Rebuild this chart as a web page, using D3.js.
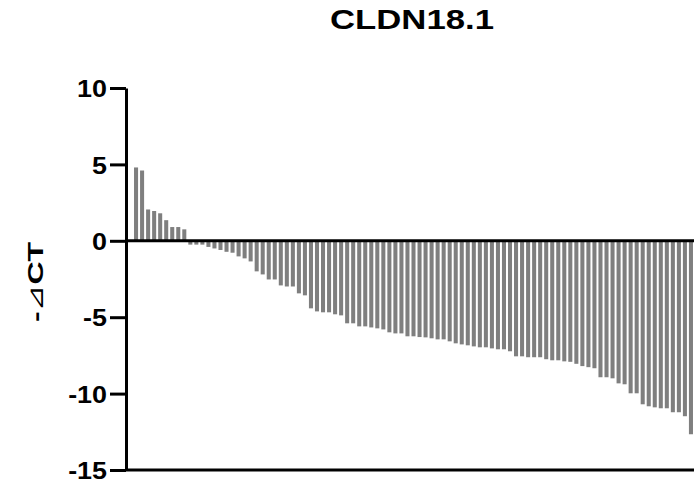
<!DOCTYPE html>
<html lang="en">
<head>
<meta charset="utf-8">
<title>CLDN18.1</title>
<script src="https://cdn.jsdelivr.net/npm/d3@7"></script>
<style>
  body { margin: 0; background: #fff; }
  .axis path, .axis line { stroke: #000; stroke-width: 3; }
  .axis text { font-family: Arial, "Liberation Sans", sans-serif; font-size: 24px; font-weight: bold; fill: #000; }
  .bar { fill: #7f7f7f; }
</style>
</head>
<body>
<script>
var w = 694, h = 481;

// -dCT per sample, sorted high to low
var samples = d3.range(1, 94).map(function (i) { return "S" + i; });
var values = [
  4.8, 4.6, 2.05, 1.95, 1.8, 1.35, 0.9, 0.9, 0.75, -0.25,
  -0.25, -0.25, -0.4, -0.5, -0.6, -0.72, -0.78, -1.02, -1.15, -1.35,
  -2.0, -2.2, -2.53, -2.53, -2.92, -2.99, -2.99, -3.44, -3.57, -4.42,
  -4.62, -4.68, -4.68, -4.81, -4.88, -5.4, -5.4, -5.6, -5.6, -5.67,
  -5.73, -5.8, -5.99, -6.06, -6.06, -6.25, -6.25, -6.3, -6.32, -6.38,
  -6.45, -6.45, -6.58, -6.71, -6.78, -6.84, -6.91, -6.97, -6.97, -7.04,
  -7.1, -7.1, -7.23, -7.56, -7.56, -7.62, -7.62, -7.62, -7.75, -7.82,
  -7.82, -7.89, -7.92, -8.05, -8.2, -8.27, -8.34, -8.93, -8.93, -9.0,
  -9.33, -9.39, -9.98, -9.98, -10.7, -10.83, -10.9, -10.96, -10.96, -11.22,
  -11.22, -11.48, -12.66
];
var yTicks = [10, 5, 0, -5, -10, -15];

var data = samples.map(function (s, i) { return { name: s, v: values[i] }; });

var axX = 126;

var x = d3.scaleBand()
  .domain(samples)
  .range([133, w])
  .paddingInner(0.33)
  .paddingOuter(0.17);

var y = d3.scaleLinear()
  .domain([-15, 10])
  .range([470, 88]);

var svg = d3.select("body").append("svg")
  .attr("width", w)
  .attr("height", h);

// bars
svg.selectAll(".bar")
  .data(data)
  .enter().append("rect")
  .attr("class", "bar")
  .attr("x", function (d) { return x(d.name); })
  .attr("width", x.bandwidth())
  .attr("y", function (d) { return y(Math.max(0, d.v)); })
  .attr("height", function (d) { return Math.abs(y(d.v) - y(0)); });

// y axis (plain hyphen for negatives, like the original)
var yAxis = svg.append("g")
  .attr("class", "axis")
  .attr("transform", "translate(" + axX + ",0)")
  .call(d3.axisLeft(y).tickValues(yTicks).tickSize(16).tickSizeOuter(0)
    .tickFormat(function (d) { return String(d); }));
yAxis.selectAll("text")
  .attr("dy", "0.36em")
  .attr("x", -19 / 1.12)
  .attr("transform", "scale(1.12,1)");

// zero line
svg.append("line")
  .attr("x1", axX).attr("x2", w)
  .attr("y1", y(0)).attr("y2", y(0))
  .attr("stroke", "#000").attr("stroke-width", 3);

// bottom line
svg.append("line")
  .attr("x1", axX).attr("x2", w)
  .attr("y1", y(-15)).attr("y2", y(-15))
  .attr("stroke", "#000").attr("stroke-width", 3);

// title
svg.append("text")
  .attr("x", 412).attr("y", 29)
  .attr("text-anchor", "middle")
  .attr("textLength", 164)
  .attr("lengthAdjust", "spacingAndGlyphs")
  .style("font-family", "Arial, 'Liberation Sans', sans-serif")
  .style("font-size", "27px")
  .style("font-weight", "bold")
  .text("CLDN18.1");

// y label
var yl = svg.append("text")
  .attr("transform", "translate(43,282) rotate(-90)")
  .attr("text-anchor", "middle")
  .attr("textLength", 80)
  .attr("lengthAdjust", "spacingAndGlyphs")
  .style("font-family", "Arial, 'Liberation Sans', sans-serif")
  .style("font-size", "22px")
  .style("font-weight", "bold");
yl.append("tspan").text("-");
yl.append("tspan").style("font-weight", "normal").style("font-family", "'DejaVu Sans', sans-serif").text("\u22BF");
yl.append("tspan").text("CT");
</script>
</body>
</html>
